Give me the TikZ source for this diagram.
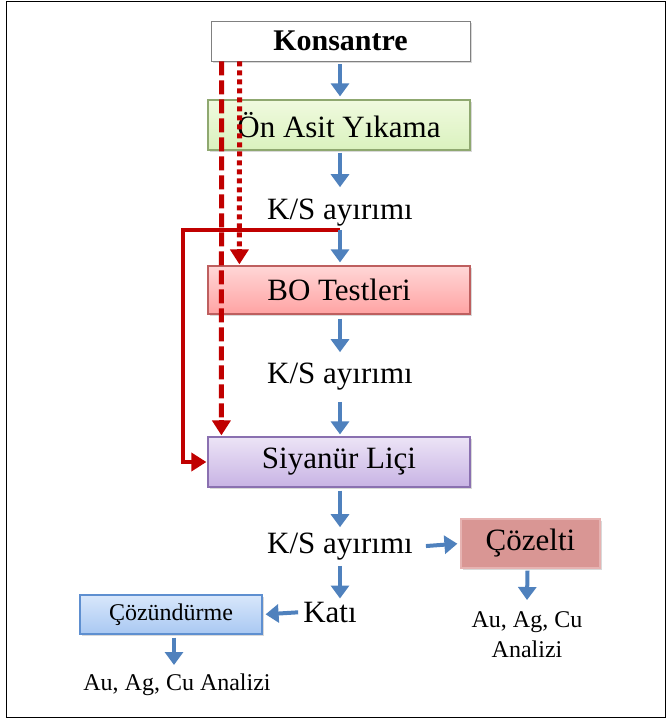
\documentclass[tikz,border=0pt]{standalone}
\usepackage{fontspec}
\setmainfont{Liberation Serif}
\usetikzlibrary{arrows.meta,shadows,calc}
\definecolor{barrowc}{HTML}{4F81BD}
\definecolor{redc}{HTML}{C00000}
\definecolor{gtop}{HTML}{F0FADF}
\definecolor{gbot}{HTML}{DAF2BE}
\definecolor{gdraw}{HTML}{8FA870}
\definecolor{ptop}{HTML}{FFD6D6}
\definecolor{pbot}{HTML}{FFA3A3}
\definecolor{pdraw}{HTML}{BE5F5F}
\definecolor{vtop}{HTML}{ECE4F6}
\definecolor{vbot}{HTML}{C8B3E4}
\definecolor{vdraw}{HTML}{8A70B0}
\definecolor{btop}{HTML}{D8E7FB}
\definecolor{bbot}{HTML}{A9C8F2}
\definecolor{bdraw}{HTML}{5E8FD0}
\definecolor{cfill}{HTML}{D99694}
\definecolor{cdraw}{HTML}{E6B3B2}
\tikzset{
  box/.style={draw, line width=1.2pt, inner sep=0pt, align=center,
    drop shadow={shadow xshift=1.5pt, shadow yshift=-2pt, opacity=0.3, fill=black!50}},
  lbl/.style={inner sep=0pt, align=center},
  barrow/.style={draw=barrowc, line width=4pt, -{Triangle[width=18pt,length=13pt]}},
  rdash/.style={draw=redc, line width=5pt, dash pattern=on 14pt off 5pt},
  rdot/.style={draw=redc, line width=5pt, dash pattern=on 5pt off 4pt},
  rsolid/.style={draw=redc, line width=3.5pt},
  rtip/.style={-{Triangle[width=18pt,length=15pt]}},
  big/.style={font=\fontsize{31}{33}\selectfont},
}
\begin{document}
\begin{tikzpicture}[x=1pt,y=-1pt]
\useasboundingbox (0,0) rectangle (668,720);
\draw[line width=1.6pt] (6.5,1.5) rectangle (665.5,717.5);

% boxes
\node[box, draw=black!50, line width=0.8pt, fill=white, minimum width=259pt, minimum height=40pt,
  font=\fontsize{30}{32}\selectfont\bfseries] (kon) at (340.5,41) {Konsantre};
\node[box, draw=gdraw, top color=gtop, bottom color=gbot,
  minimum width=262pt, minimum height=50pt, big] (on) at (339,125) {Ön Asit Yıkama};
\node[box, draw=pdraw, top color=ptop, bottom color=pbot,
  minimum width=262pt, minimum height=48pt, big] (bo) at (339,290) {BO Testleri};
\node[box, draw=vdraw, top color=vtop, bottom color=vbot,
  minimum width=262pt, minimum height=50pt, big] (sl) at (339,462) {Siyanür Liçi};
\node[box, draw=cdraw, fill=cfill,
  minimum width=139pt, minimum height=49pt, big] (coz) at (530.5,543.5) {Çözelti};
\node[box, draw=bdraw, top color=btop, bottom color=bbot,
  minimum width=182pt, minimum height=39pt, font=\fontsize{24}{26}\selectfont] (czd) at (171,614.5) {Çözündürme};

% text labels
\node[lbl, big] (ks1) at (340,213) {K/S ayırımı};
\node[lbl, big] (ks2) at (340,377) {K/S ayırımı};
\node[lbl, big] (ks3) at (340,547) {K/S ayırımı};
\node[lbl, big] (kati) at (330,612) {Katı};
\node[lbl, anchor=north, font=\fontsize{24}{30}\selectfont] (an1) at (527,611) {Au, Ag, Cu\\Analizi};
\node[lbl, anchor=north, font=\fontsize{24}{26}\selectfont] (an2) at (177,674) {Au, Ag, Cu Analizi};

\coordinate (split) at (340,230);

% red lines
\draw[rdash] ($(kon.south west)+(11,0)$) -- ($(sl.north west)+(14,-15)$);
\draw[redc, line width=5pt, rtip] ($(sl.north west)+(14,-16)$) -- ($(sl.north west)+(14,-1)$);
\draw[rdot] ($(kon.south west)+(29,0)$) -- ($(bo.north west)+(32,-15)$);
\draw[redc, line width=5pt, rtip] ($(bo.north west)+(32,-16)$) -- ($(bo.north west)+(32,-1)$);
\draw[rsolid, rtip] (split) -- (183,230) |- ($(sl.west)+(-1,0)$);

% blue arrows
\draw[barrow] ($(kon.south -| 340,0)+(0,3)$) -- ($(on.north -| 340,0)+(0,-3)$);
\draw[barrow] ($(on.south -| 340,0)+(0,2)$) -- ($(ks1.north)+(0,-12)$);
\draw[barrow, shorten >=3pt] (split) -- (bo.north -| split);
\draw[barrow] ($(bo.south -| 340,0)+(0,4)$) -- ($(ks2.north)+(0,-11)$);
\draw[barrow] ($(ks2.south)+(0,11)$) -- ($(sl.north -| ks2.south)+(0,-2)$);
\draw[barrow] ($(sl.south -| 340,0)+(0,3)$) -- ($(ks3.north)+(0,-6)$);
\draw[barrow, shorten <=13pt, shorten >=3pt] (ks3.east) -- (coz.west);
\draw[barrow, shorten <=5pt, shorten >=3pt] (ks3.south) -- (ks3.south |- kati.north);
\draw[barrow, shorten <=5pt, shorten >=3pt] (kati.west) -- (czd.east);
\draw[barrow] ($(coz.south)+(-3,2)$) -- ($(an1.north -| 527,0)+(0,-11)$);
\draw[barrow] ($(czd.south)+(3,3)$) -- ($(an2.north -| 174,0)+(0,-9)$);
\end{tikzpicture}
\end{document}
